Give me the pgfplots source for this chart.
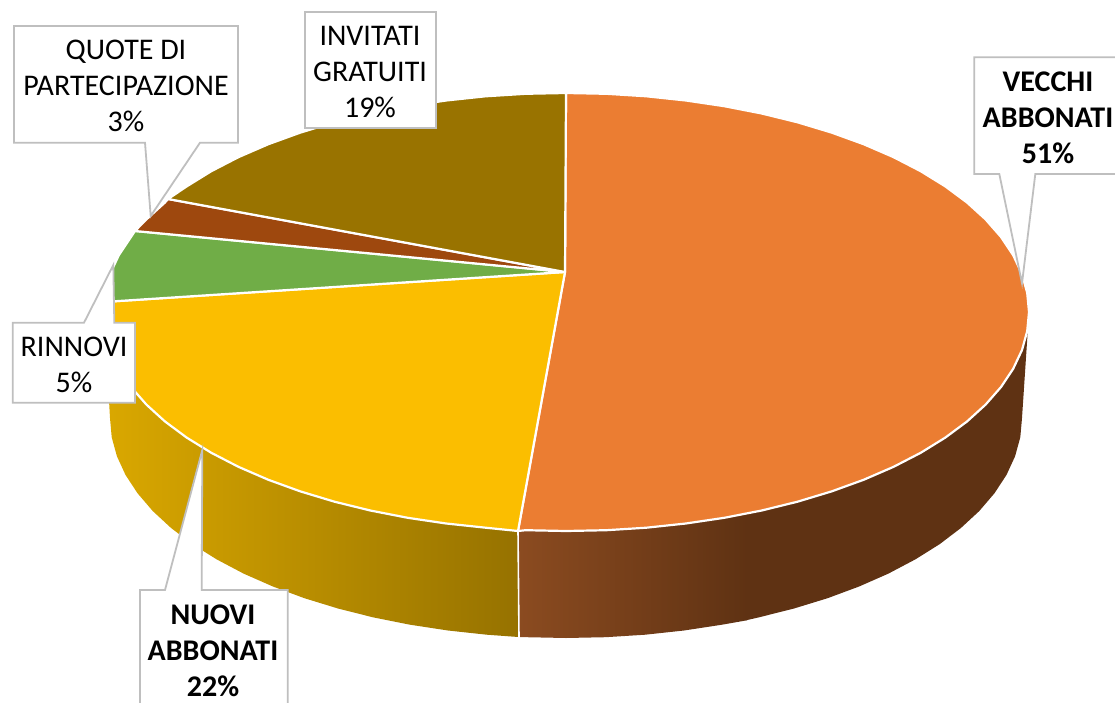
\documentclass[border=0pt]{standalone}
\usepackage{fontspec}
\setmainfont{Carlito}
\usepackage{pgfplots}
\pgfplotsset{compat=1.18}
\definecolor{cOr}{HTML}{EB7D32}
\definecolor{cYe}{HTML}{FBBE00}
\definecolor{cGr}{HTML}{70AD47}
\definecolor{cBr}{HTML}{9E480E}
\definecolor{cIn}{HTML}{997300}
\definecolor{cOrA}{HTML}{8B4B20}
\definecolor{cOrB}{HTML}{5F3213}
\definecolor{cYeA}{HTML}{DAA800}
\definecolor{cYeB}{HTML}{967200}
\definecolor{cBox}{HTML}{BFBFBF}
\tikzset{
  slice/.style={draw=white, line width=2.2pt, line join=round},
  callout/.style={draw=cBox, fill=white, line width=1.8pt, line join=miter},
  lab/.style={font=\fontsize{30}{36}\selectfont, align=center, anchor=center, inner sep=0pt, text=black},
  labb/.style={font=\fontsize{30}{36}\selectfont\bfseries, align=center, anchor=center, inner sep=0pt, text=black},
}
\begin{document}
\begin{tikzpicture}
\useasboundingbox (0,0) rectangle (1115pt,703pt);
\begin{axis}[
  at={(0,0)}, anchor=south west,
  scale only axis, width=1115pt, height=703pt,
  xmin=0, xmax=1115, ymin=0, ymax=703, y dir=reverse,
  axis lines=none, clip=true, no markers,
]
% --- side wall, yellow slice
\addplot[draw=none, left color=cYeA, right color=cYeB] coordinates {
 (518.3,637) (486.8,634.7) (448,630.5) (410,624.7) (373.3,617.4) (338,608.5) (304.4,598.2) (272.9,586.5)
 (243.6,573.6) (216.7,559.4) (192.4,544.2) (171.1,528) (152.7,511) (137.5,493.2) (125.5,474.9) (116.9,456.2)
 (111.7,437.2) (110,418) (104,312) (518.3,420)} -- cycle;
% --- side wall, orange slice, shaded part
\addplot[draw=none, left color=cOrA, right color=cOrB] coordinates {
 (518.3,637) (526.3,637.2) (566,638) (605.7,637.2) (645.2,634.7) (684,630.5) (722,624.7) (747,620.3)
 (747,420) (518.3,420)} -- cycle;
% --- side wall, orange slice, dark part
\addplot[draw=none, fill=cOrB] coordinates {
 (746,620.3) (758.7,617.4) (794,608.5) (827.6,598.2) (859.1,586.5) (888.4,573.6) (915.3,559.4) (939.6,544.2)
 (960.9,528) (979.3,511) (994.5,493.2) (1006.5,474.9) (1015.1,456.2) (1020.3,437.2) (1022,418) (1029,312) (746,420)} -- cycle;
% --- seam
\addplot[draw=white, line width=1.6pt] coordinates {(518,531) (519,638)};
% --- top face: VECCHI ABBONATI
\addplot[slice, fill=cOr] coordinates {
 (565,272) (566,93) (606.4,93.8) (646.4,96.3) (685.8,100.5) (724.3,106.2) (761.7,113.5) (797.5,122.3) (831.6,132.6)
 (863.6,144.2) (893.4,157.1) (920.7,171.2) (945.3,186.4) (967,202.5) (985.6,219.4) (1001.1,237.1) (1013.2,255.3)
 (1022,274) (1027.2,292.9) (1029,312) (1027.2,331.1) (1022,350) (1013.2,368.7) (1001.1,386.9) (985.6,404.6)
 (967,421.5) (945.3,437.6) (920.7,452.8) (893.4,466.9) (863.6,479.8) (831.6,491.4) (797.5,501.7) (761.7,510.5)
 (724.3,517.8) (685.8,523.5) (646.4,527.7) (606.4,530.2) (566,531) (525.6,530.2) (518,531)} -- cycle;
% --- top face: NUOVI ABBONATI
\addplot[slice, fill=cYe] coordinates {
 (565,272) (518,531) (485.6,527.7) (446.2,523.5) (407.7,517.8) (370.3,510.5) (334.5,501.7) (300.4,491.4) (268.4,479.8)
 (238.6,466.9) (211.3,452.8) (186.7,437.6) (165,421.5) (146.4,404.6) (130.9,386.9) (118.8,368.7) (110,350)
 (104.8,331.1) (103,312) (103.5,302)} -- cycle;
% --- top face: RINNOVI
\addplot[slice, fill=cGr] coordinates {
 (565,272) (103.5,302) (104.8,292.9) (110,274) (118.8,255.3) (130.9,237.1) (135,231)} -- cycle;
% --- top face: QUOTE DI PARTECIPAZIONE
\addplot[slice, fill=cBr] coordinates {
 (565,272) (135,231) (146.4,219.4) (165,202.5) (168,199)} -- cycle;
% --- top face: INVITATI GRATUITI
\addplot[slice, fill=cIn] coordinates {
 (565,272) (168,199) (186.7,186.4) (211.3,171.2) (238.6,157.1) (268.4,144.2) (300.4,132.6) (334.5,122.3) (370.3,113.5)
 (407.7,106.2) (446.2,100.5) (485.6,96.3) (525.6,93.8) (566,93)} -- cycle;
% --- callouts
\addplot[callout] coordinates {(14,26) (238,26) (238,142.7) (200,142.7) (150.7,216) (145,142.7) (14,142.7)} -- cycle;
\addplot[callout] coordinates {(305,12) (436,12) (436,128) (305,128)} -- cycle;
\addplot[callout] coordinates {(12.7,322.7) (84,322.7) (113.3,265) (114.3,322.7) (135,322.7) (135,402.7) (12.7,402.7)} -- cycle;
\addplot[callout] coordinates {(140,590) (165,590) (202.3,450) (201.7,590) (287.7,590) (287.7,720) (140,720)} -- cycle;
\addplot[callout] coordinates {(974.3,57.3) (1130,57.3) (1130,174) (1035.3,174) (1022,283.3) (999.3,174) (974.3,174)} -- cycle;
% --- labels
\node[lab] at (axis cs:126,86) {QUOTE DI\\PARTECIPAZIONE\\3\%};
\node[lab] at (axis cs:370,72) {INVITATI\\GRATUITI\\19\%};
\node[lab] at (axis cs:74,365) {RINNOVI\\5\%};
\node[labb] at (axis cs:213,650.5) {NUOVI\\ABBONATI\\22\%};
\node[labb] at (axis cs:1048,117.5) {VECCHI\\ABBONATI\\51\%};
\end{axis}
\end{tikzpicture}
\end{document}
